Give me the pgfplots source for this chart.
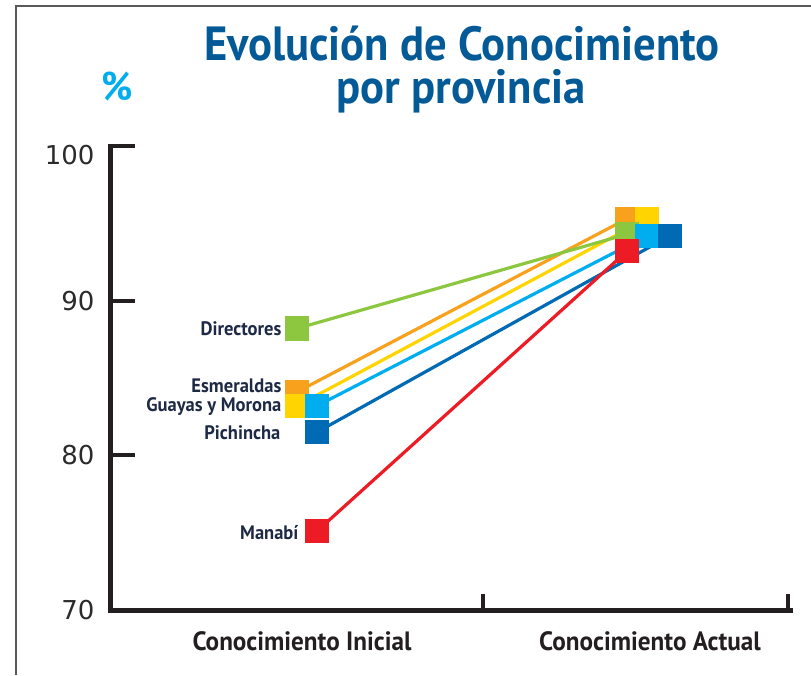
\documentclass[border=0pt]{standalone}
\usepackage{pgfplots}
\pgfplotsset{compat=1.18}
\usepackage{fontspec}
\setmainfont{PT Sans}
\newfontfamily\condfont[FakeStretch=0.95]{PT Sans}
\newfontfamily\titlefont[FakeStretch=0.93]{PT Sans}
\newfontfamily\numfont{DejaVu Sans}
\definecolor{cgreen}{HTML}{8DC63F}
\definecolor{corange}{HTML}{F8A11D}
\definecolor{cyellow}{HTML}{FFD400}
\definecolor{clblue}{HTML}{00AEEF}
\definecolor{cdblue}{HTML}{006AB4}
\definecolor{cred}{HTML}{ED1C24}
\definecolor{ctitle}{HTML}{045A97}
\definecolor{caxis}{HTML}{231F20}
\definecolor{clabel}{HTML}{1E2A45}
\definecolor{cnum}{HTML}{2B2B2B}
\tikzset{
  lbl/.style={anchor=east, inner sep=0pt, font=\condfont\bfseries\fontsize{19.5}{20}\selectfont, text=clabel},
  cat/.style={anchor=base, font=\condfont\bfseries\fontsize{26.5}{27}\selectfont, text=caxis},
}
\begin{document}
\begin{tikzpicture}[x=1pt,y=1pt]
\draw[line width=1.2pt, color=black!65] (16,-675) -- (16,-6) -- (811,-6);
\node[anchor=base, inner sep=0pt, font=\titlefont\bfseries\fontsize{48}{52}\selectfont, text=ctitle] at (462,-60) {Evolución de Conocimiento};
\node[anchor=base, inner sep=0pt, font=\titlefont\bfseries\fontsize{48}{52}\selectfont, text=ctitle] at (461,-103) {\smash{por provincia}};
\node[anchor=base, font=\titlefont\bfseries\fontsize{40}{44}\selectfont, text=clblue] at (117,-100) {\%};
\begin{axis}[
  set layers, mark layer=axis foreground,
  scale only axis, width=680pt, height=464pt,
  at={(110pt,-610pt)}, anchor=south west,
  xmin=110, xmax=790, ymin=70, ymax=100,
  axis x line=bottom, axis y line=left,
  axis line style={-, line width=5pt, color=caxis, line cap=rect},
  tick align=inside,
  ytick={70,80,90}, extra y ticks={100},
  extra y tick style={yticklabel style={yshift=-9pt}},
  tick style={line width=4pt, color=caxis},
  major tick length=25pt,
  xtick=\empty,
  extra x ticks={483,788}, extra x tick labels={,},
  extra x tick style={major tick length=16pt},
  /pgf/number format/assume math mode=true,
  yticklabel style={font=\numfont\fontsize{26}{26}\selectfont, text=cnum, anchor=east, xshift=-12pt},
  clip=false,
  every axis plot/.append style={line width=3.2pt, mark=square*, mark size=10.5pt},
]
\addplot[color=corange, mark options={draw=none, fill=corange}] coordinates {(297,84.1) (627,95.3)}
  node[pos=0, lbl, xshift=-14pt, yshift=6pt] {Esmeraldas};
\addplot[color=cyellow, mark options={draw=none, fill=cyellow}] coordinates {(297,83.2) (647,95.3)}
  node[pos=0, lbl, xshift=-14pt, yshift=-1pt] {Guayas y Morona};
\addplot[color=cgreen, mark options={draw=none, fill=cgreen}] coordinates {(297,88.2) (627,94.3)}
  node[pos=0, lbl, xshift=-14pt] {Directores};
\addplot[color=clblue, mark options={draw=none, fill=clblue}] coordinates {(317,83.2) (647,94.2)};
\addplot[color=cdblue, mark options={draw=none, fill=cdblue}] coordinates {(317,81.5) (670,94.2)}
  node[pos=0, lbl, xshift=-35pt, yshift=-1pt] {Pichincha};
\addplot[color=cred, mark options={draw=none, fill=cred}] coordinates {(317,75.1) (627,93.2)}
  node[pos=0, lbl, xshift=-17pt, yshift=-1pt] {Manabí};
\node[cat, yshift=-40pt] at (axis cs:302,70) {Conocimiento Inicial};
\node[cat, yshift=-40pt] at (axis cs:650,70) {Conocimiento Actual};
\end{axis}
\pgfresetboundingbox
\useasboundingbox (0,0) rectangle (811,-675);
\end{tikzpicture}
\end{document}
